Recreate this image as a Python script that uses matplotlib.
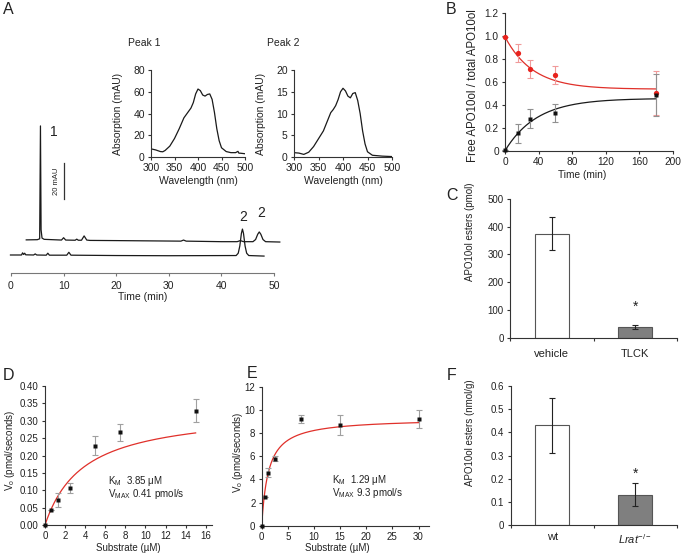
import matplotlib
matplotlib.use("Agg")
import matplotlib.pyplot as plt
import numpy as np

plt.rcParams['font.family'] = ['Liberation Sans', 'DejaVu Sans']
plt.rcParams['font.size'] = 7
plt.rcParams['mathtext.fontset'] = 'custom'
plt.rcParams['mathtext.rm'] = 'Liberation Sans'
plt.rcParams['mathtext.it'] = 'Liberation Sans:italic'
plt.rcParams['mathtext.bf'] = 'Liberation Sans:bold'

W, H = 683, 555
TXT = '#222222'

# ---------------- data ----------------
# A: HPLC traces (upper trace offset above lower trace), mAU
chrom1_time = [2.9, 5.0, 5.45, 5.6, 5.72, 5.9, 6.3, 9.6, 10.0, 10.4, 12.2, 12.5, 12.8,
               13.4, 13.9, 14.4, 15.0, 20.0, 32.3, 32.8, 33.3, 40.0, 43.0, 43.6, 44.2,
               46.0, 46.5, 46.9, 47.2, 47.5, 47.9, 48.4, 51.1]
chrom1_abs = [18.4, 18.5, 19.0, 81.7, 24.0, 19.4, 18.7, 18.3, 19.6, 18.3, 18.2, 18.8, 18.2,
              18.2, 20.6, 18.3, 18.1, 18.0, 17.7, 18.3, 17.7, 17.4, 17.4, 18.0, 17.4,
              17.4, 18.6, 21.5, 22.8, 21.5, 18.6, 17.4, 17.2]
chrom2_time = [-0.1, 2.0, 2.2, 2.4, 2.6, 2.8, 4.3, 4.6, 4.9, 6.7, 7.0, 7.3, 10.6, 11.0,
               11.4, 20.0, 30.0, 42.8, 43.2, 43.5, 43.8, 44.0, 44.2, 44.5, 44.8, 45.2, 48.1]
chrom2_abs = [10.0, 10.0, 11.2, 10.3, 11.0, 10.1, 10.0, 10.6, 10.0, 9.9, 11.0, 9.9, 9.9,
              11.5, 9.9, 9.7, 9.6, 9.7, 11.0, 15.0, 22.0, 24.4, 22.0, 15.0, 11.0, 9.7, 9.4]

# A insets: absorption spectra
peak1_nm = [300, 310, 320, 325, 330, 340, 350, 360, 370, 380, 385, 390, 395, 400, 405,
            410, 415, 420, 425, 430, 435, 440, 445, 450, 460, 470, 480, 485, 487, 490, 500]
peak1_mau = [7.5, 6.5, 5.0, 4.8, 6.0, 10.0, 17.0, 26.0, 36.0, 42.0, 45.0, 50.0, 58.0, 62.5,
             61.0, 57.0, 56.0, 57.5, 58.0, 53.0, 41.0, 26.0, 15.0, 8.5, 5.0, 4.0, 4.0, 5.2,
             3.5, 3.5, 3.0]
peak2_nm = [300, 310, 320, 330, 340, 350, 360, 370, 375, 380, 385, 390, 395, 400, 405,
            410, 415, 420, 425, 430, 435, 440, 445, 450, 460, 480, 500]
peak2_mau = [1.0, 0.9, 0.6, 1.1, 2.4, 4.2, 6.0, 8.8, 10.2, 10.9, 11.8, 13.2, 15.0, 15.8,
             15.2, 14.0, 13.6, 14.6, 14.8, 13.0, 10.0, 6.0, 3.0, 1.2, 0.4, 0.2, 0.1]

# B: time course
b_time = [0, 15, 30, 60, 180]
b_red = [0.99, 0.85, 0.71, 0.66, 0.50]
b_red_err = [0.0, 0.08, 0.08, 0.08, 0.19]
b_black = [0.005, 0.15, 0.28, 0.33, 0.485]
b_black_err = [0.0, 0.08, 0.08, 0.08, 0.185]
b_red_fit = (0.535, 0.455, 33.0)     # plateau, amplitude, tau
b_black_fit = (0.455, 38.0)          # plateau, tau

# C
c_groups = ['vehicle', 'TLCK']
c_values = [375, 38]
c_err = [60, 7]

# D
d_substrate = [0, 0.625, 1.25, 2.5, 5, 7.5, 15]
d_v = [0.0, 0.043, 0.072, 0.107, 0.228, 0.267, 0.329]
d_err = [0, 0, 0.02, 0.015, 0.027, 0.024, 0.034]
d_km, d_vmax_curve = 3.85, 0.333

# E
e_substrate = [0, 0.625, 1.25, 2.5, 7.5, 15, 30]
e_v = [0.0, 2.5, 4.6, 5.8, 9.25, 8.7, 9.25]
e_err = [0, 0, 0.35, 0.2, 0.35, 0.85, 0.78]
e_km, e_vmax = 1.29, 9.3

# F
f_groups = ['wt', r'$\mathit{Lrat}^{\mathit{-/-}}$']
f_values = [0.43, 0.13]
f_err = [0.12, 0.05]

# ---------------- figure ----------------
fig = plt.figure(figsize=(W / 100, H / 100), dpi=100)


def px_axes(x0, y0, x1, y1):
    return fig.add_axes([x0 / W, 1 - y1 / H, (x1 - x0) / W, (y1 - y0) / H])


def ftext(x, y, s, **kw):
    kw.setdefault('ha', 'center')
    kw.setdefault('va', 'center')
    kw.setdefault('color', TXT)
    return fig.text(x / W, 1 - y / H, s, **kw)


def style(ax, size=7):
    for s in ['top', 'right']:
        ax.spines[s].set_visible(False)
    for s in ['left', 'bottom']:
        ax.spines[s].set_color('#333333')
        ax.spines[s].set_linewidth(0.8)
    ax.tick_params(direction='out', length=2.5, width=0.8, colors='#333333',
                   labelcolor=TXT, labelsize=size, pad=2)
    ax.patch.set_alpha(0)


# ---- A: chromatogram ----
ax_a = px_axes(8, 100, 284, 273)
ax_a.plot(chrom1_time, chrom1_abs, color='#1a1a1a', lw=0.9, clip_on=False)
ax_a.plot(chrom2_time, chrom2_abs, color='#1a1a1a', lw=0.9, clip_on=False)
ax_a.set_xlim(-0.57, 51.9)
ax_a.set_ylim(0, 96.1)
style(ax_a, 7.5)
ax_a.spines['left'].set_visible(False)
ax_a.spines['bottom'].set_bounds(0, 50)
ax_a.spines['bottom'].set_color('#777777')
ax_a.set_yticks([])
ax_a.set_xticks(range(0, 51, 10))
ax_a.tick_params(axis='x', colors='#777777', labelcolor=TXT, pad=3)
ax_a.plot([10.1, 10.1], [41.1, 61.1], color='#333333', lw=0.9)
ax_a.text(8.6, 51.1, '20 mAU', rotation=90, ha='center', va='center', fontsize=5.5, color=TXT)
ax_a.text(8.2, 78.3, '1', ha='center', va='center', fontsize=10, color=TXT)
ax_a.text(44.1, 31.0, '2', ha='center', va='center', fontsize=10, color=TXT)
ax_a.text(47.6, 33.3, '2', ha='center', va='center', fontsize=10, color=TXT)
ftext(143, 297, 'Time (min)', fontsize=7.5)

# ---- A insets ----
for x0, x1, nm, mau, ymax, ystep, title, tx in [
        (151, 245, peak1_nm, peak1_mau, 80, 20, 'Peak 1', 128),
        (294, 392, peak2_nm, peak2_mau, 20, 5, 'Peak 2', 267)]:
    ax = px_axes(x0, 70, x1, 157)
    ax.plot(nm, mau, color='#1a1a1a', lw=0.9)
    ax.set_xlim(300, 500)
    ax.set_ylim(0, ymax)
    ax.set_xticks(range(300, 501, 50))
    ax.set_yticks(range(0, ymax + 1, ystep))
    style(ax, 7.5)
    ax.set_xlabel('Wavelength (nm)', fontsize=7.5, color=TXT, labelpad=2)
    ax.set_ylabel('Absorption (mAU)', fontsize=7.5, color=TXT, labelpad=7)
    ftext(tx, 43, title, ha='left', fontsize=7.5)

# ---- B ----
ax_b = px_axes(505, 12.7, 673, 150.7)
t = np.linspace(0, 180, 200)
pl, amp, tau = b_red_fit
ax_b.plot(t, pl + amp * np.exp(-t / tau), color='#e0302a', lw=0.9)
pl2, tau2 = b_black_fit
ax_b.plot(t, pl2 * (1 - np.exp(-t / tau2)), color='#1a1a1a', lw=0.9)
ax_b.errorbar(b_time, b_red, yerr=b_red_err, fmt='none', ecolor='#f09a9a',
              elinewidth=0.8, capsize=2, capthick=0.8, clip_on=False)
ax_b.errorbar(b_time, b_black, yerr=b_black_err, fmt='none', ecolor='#909090',
              elinewidth=0.8, capsize=2, capthick=0.8, clip_on=False)
ax_b.plot(b_time, b_red, 'o', color='#e8221c', ms=3.8, mec='none', clip_on=False, zorder=5)
ax_b.plot(b_time, b_black, 's', color='#111111', ms=3.3, mec='none', clip_on=False, zorder=5)
ax_b.set_xlim(0, 200)
ax_b.set_ylim(0, 1.2)
ax_b.set_xticks(range(0, 201, 40))
ax_b.set_yticks([0, 0.2, 0.4, 0.6, 0.8, 1.0, 1.2])
ax_b.set_yticklabels(['0', '0.2', '0.4', '0.6', '0.8', '1.0', '1.2'])
style(ax_b, 7.3)
ftext(582, 175, 'Time (min)', fontsize=7.3)
ftext(473, 86, 'Free APO10ol / total APO10ol', rotation=90, fontsize=8.3)


def bar_panel(box, groups, values, err, ylim, yticks, ylabels, star_y, label_pad):
    ax = px_axes(*box)
    ax.bar([0, 1], values, width=0.41, color=['white', '#7f7f7f'],
           edgecolor='#555555', linewidth=0.8)
    ax.errorbar([0, 1], values, yerr=err, fmt='none', ecolor='#222222',
                elinewidth=0.8, capsize=2.5, capthick=0.8)
    ax.text(1, star_y, '*', ha='center', va='center', fontsize=10, color=TXT)
    ax.set_xlim(-0.5, 1.5)
    ax.set_ylim(*ylim)
    ax.set_yticks(yticks)
    ax.set_yticklabels(ylabels)
    style(ax, 7)
    ax.set_xticks([0, 1])
    ax.set_xticklabels(groups, fontsize=8)
    ax.tick_params(axis='x', which='major', length=0, pad=label_pad)
    ax.set_xticks([-0.5, 0.5, 1.5], minor=True)
    ax.tick_params(axis='x', which='minor', direction='out', length=2.5, width=0.8,
                   colors='#333333')
    return ax


# ---- C ----
ax_c = bar_panel((510, 199, 677, 337.7), c_groups, c_values, c_err, (0, 500),
                 range(0, 501, 100), [str(v) for v in range(0, 501, 100)], 110, 8)
ftext(470, 232, 'APO10ol esters (pmol)', rotation=90, fontsize=7)

# ---- F ----
f_ticks = [0, 0.1, 0.2, 0.3, 0.4, 0.5, 0.6]
ax_f = bar_panel((510.7, 386, 677, 525), f_groups, f_values, f_err, (0, 0.6),
                 f_ticks, ['0', '0.1', '0.2', '0.3', '0.4', '0.5', '0.6'], 0.22, 5)
ftext(470, 433, 'APO10ol esters (nmol/g)', rotation=90, fontsize=7)

# ---- D ----
ax_d = px_axes(45, 386, 212.3, 525)
s = np.linspace(0, 15, 200)
ax_d.plot(s, d_vmax_curve * s / (d_km + s), color='#e0302a', lw=0.9)
ax_d.errorbar(d_substrate, d_v, yerr=d_err, fmt='none', ecolor='#a0a0a0',
              elinewidth=0.8, capsize=2, capthick=0.8)
ax_d.plot(d_substrate, d_v, 's', color='#111111', ms=3.0, mec='none', clip_on=False, zorder=5)
ax_d.set_xlim(0, 16.66)
ax_d.set_ylim(0, 0.40)
ax_d.set_xticks(range(0, 17, 2))
ax_d.set_yticks(np.arange(0, 0.401, 0.05))
ax_d.set_yticklabels(['%.2f' % v for v in np.arange(0, 0.401, 0.05)])
style(ax_d, 7)
ax_d.text(6.3, 0.127, r'K$_\mathregular{M}$  3.85 $\mathregular{\mu}$M', fontsize=7, color=TXT,
          ha='left', va='center')
ax_d.text(6.3, 0.089, r'V$_\mathregular{MAX}$ 0.41 pmol/s', fontsize=7, color=TXT,
          ha='left', va='center')
ftext(128, 548, 'Substrate (\u00b5M)', fontsize=7)
ftext(10, 450, r'V$_\mathregular{o}$ (pmol/seconds)', rotation=90, fontsize=7)

# ---- E ----
ax_e = px_axes(261.7, 387, 429, 525.7)
s = np.linspace(0, 30, 300)
ax_e.plot(s, e_vmax * s / (e_km + s), color='#e0302a', lw=0.9)
ax_e.errorbar(e_substrate, e_v, yerr=e_err, fmt='none', ecolor='#a0a0a0',
              elinewidth=0.8, capsize=2, capthick=0.8)
ax_e.plot(e_substrate, e_v, 's', color='#111111', ms=3.0, mec='none', clip_on=False, zorder=5)
ax_e.set_xlim(0, 32)
ax_e.set_ylim(0, 12)
ax_e.set_xticks(range(0, 31, 5))
ax_e.set_yticks(range(0, 13, 2))
style(ax_e, 7)
ax_e.text(13.4, 3.95, r'K$_\mathregular{M}$  1.29 $\mathregular{\mu}$M', fontsize=7, color=TXT,
          ha='left', va='center')
ax_e.text(13.4, 2.85, r'V$_\mathregular{MAX}$ 9.3 pmol/s', fontsize=7, color=TXT,
          ha='left', va='center')
ftext(337, 548, 'Substrate (\u00b5M)', fontsize=7)
ftext(238, 452, r'V$_\mathregular{o}$ (pmol/seconds)', rotation=90, fontsize=7)

# ---- panel letters ----
for letter, x, y in [('A', 8, 10), ('B', 451, 9), ('C', 452, 196),
                     ('D', 8, 376), ('E', 252, 373), ('F', 452, 375)]:
    ftext(x, y, letter, fontsize=11.5)

fig.savefig('out.png', dpi=100)
